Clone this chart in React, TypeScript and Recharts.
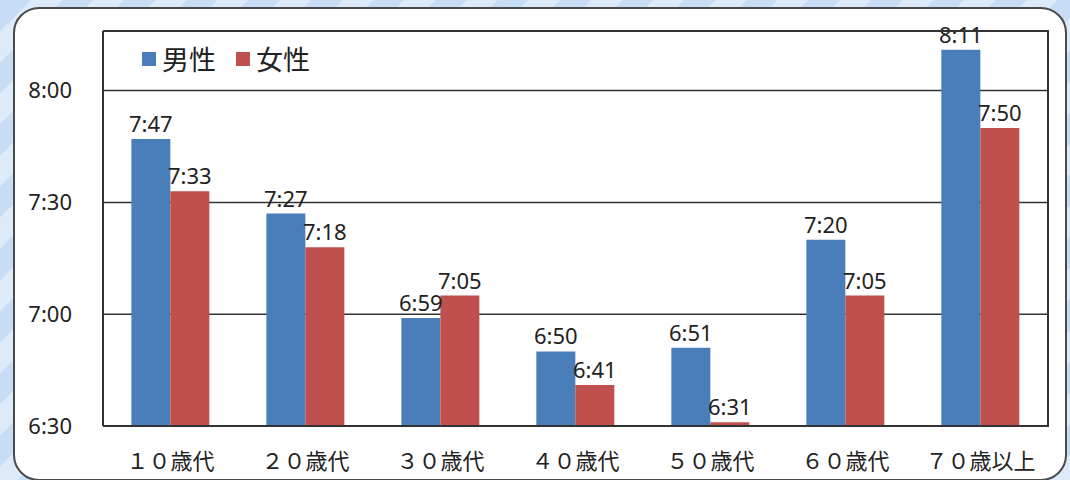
import React from 'react'
import { BarChart, Bar, XAxis, YAxis, CartesianGrid, LabelList } from 'recharts'

// 平均睡眠時間（分）: 年代別・男女別
const ageGroups = ['１０歳代', '２０歳代', '３０歳代', '４０歳代', '５０歳代', '６０歳代', '７０歳以上']
const maleMinutes = [467, 447, 419, 410, 411, 440, 491]
const femaleMinutes = [453, 438, 425, 401, 391, 425, 470]
const yTicks = [390, 420, 450, 480]

const BLUE = '#4a7ebb'
const RED = '#c0504d'
const FONT = '"Noto Sans", "Noto Sans CJK JP", sans-serif'
const JP_FONT = '"Noto Sans CJK JP", sans-serif'

const data = ageGroups.map((age, i) => ({
  age,
  male: maleMinutes[i],
  female: femaleMinutes[i],
}))

const hm = (m: number) => `${Math.floor(m / 60)}:${String(m % 60).padStart(2, '0')}`

function LegendBox() {
  const item = (color: string, text: string) => (
    <span style={{ display: 'inline-flex', alignItems: 'center', marginRight: 20 }}>
      <span style={{ width: 14, height: 14, background: color, display: 'inline-block', marginRight: 6 }} />
      <span style={{ fontFamily: JP_FONT, fontSize: 27, color: '#222', lineHeight: 1 }}>{text}</span>
    </span>
  )
  return (
    <div style={{ position: 'absolute', left: 142, top: 45, display: 'flex' }}>
      {item(BLUE, '男性')}
      {item(RED, '女性')}
    </div>
  )
}

export default function App() {
  return (
    <div
      style={{
        position: 'fixed',
        left: 0,
        top: 0,
        width: 1070,
        height: 480,
        overflow: 'hidden',
        background: 'repeating-linear-gradient(135deg, #c6ddf5 0px, #c6ddf5 22px, #dceafa 22px, #dceafa 44px)',
      }}
    >
      <div
        style={{
          position: 'absolute',
          left: 13,
          top: 7,
          width: 1050,
          height: 470,
          background: '#fff',
          border: '2px solid #4a4a4a',
          borderRadius: 26,
        }}
      />
      <div style={{ position: 'absolute', left: 0, top: 0 }}>
        <BarChart
          width={1070}
          height={480}
          data={data}
          margin={{ top: 31, right: 22, left: 13, bottom: 24 }}
          barCategoryGap="21%"
          barGap={0}
        >
          <CartesianGrid vertical={false} stroke="#333" strokeWidth={1.5} />
          <XAxis
            dataKey="age"
            height={30}
            tickSize={0}
            tickMargin={27}
            axisLine={{ stroke: '#333', strokeWidth: 2 }}
            tick={{ fill: '#222', fontSize: 22, fontFamily: JP_FONT }}
          />
          <YAxis
            domain={[390, 496]}
            ticks={yTicks}
            width={90}
            tickSize={0}
            tickMargin={31}
            tickFormatter={hm}
            axisLine={{ stroke: '#333', strokeWidth: 2 }}
            tick={{ fill: '#222', fontSize: 22, fontFamily: FONT }}
            allowDataOverflow
          />
          <Bar dataKey="male" name="男性" fill={BLUE} isAnimationActive={false}>
            <LabelList dataKey="male" position="top" offset={7} formatter={hm} fill="#222" fontSize={22} fontFamily={FONT} />
          </Bar>
          <Bar dataKey="female" name="女性" fill={RED} isAnimationActive={false}>
            <LabelList dataKey="female" position="top" offset={7} formatter={hm} fill="#222" fontSize={22} fontFamily={FONT} />
          </Bar>
        </BarChart>
      </div>
      <LegendBox />
      {/* 枠線（プロットエリア上辺・右辺） */}
      <div
        style={{
          position: 'absolute',
          left: 103,
          top: 30,
          width: 944,
          height: 395,
          borderTop: '2px solid #333',
          borderRight: '2px solid #333',
          pointerEvents: 'none',
        }}
      />
    </div>
  )
}
